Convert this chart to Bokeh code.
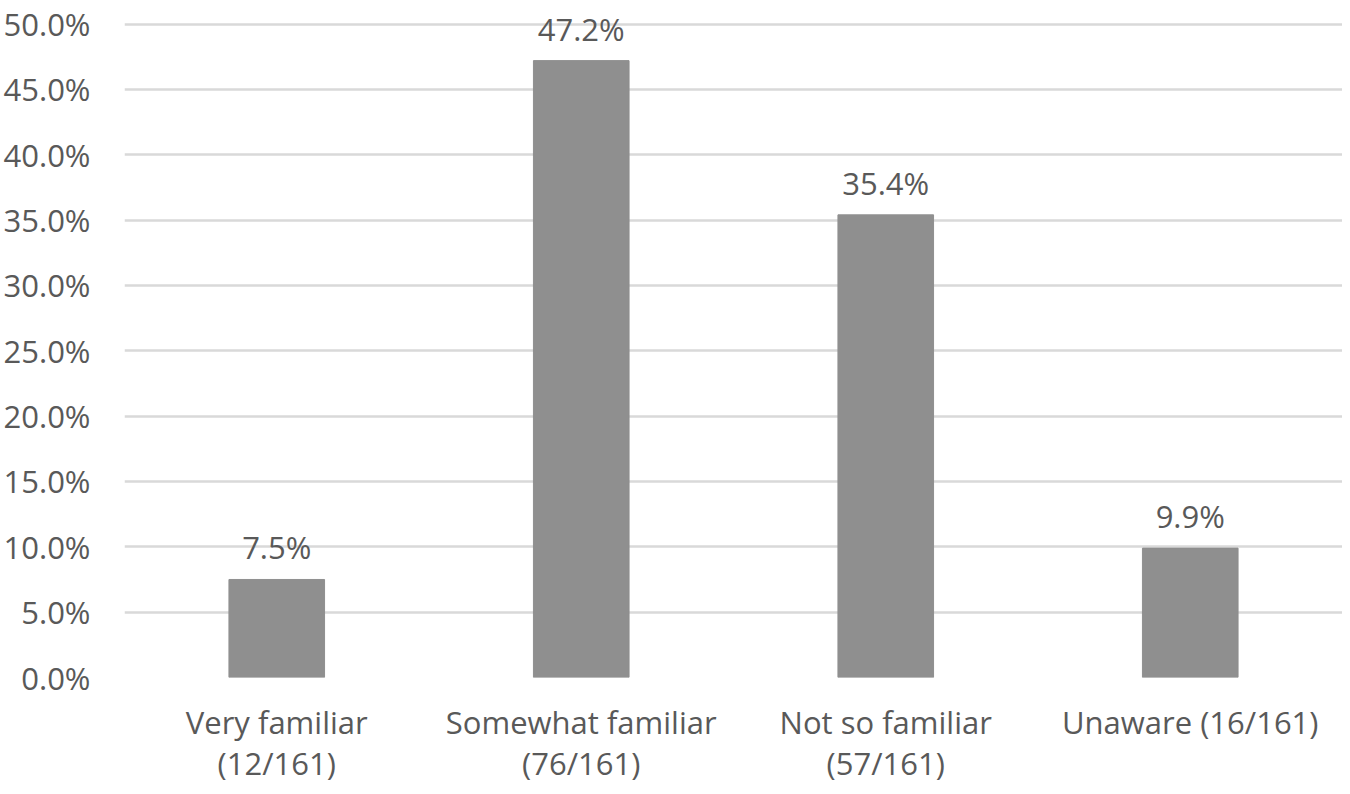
from bokeh.plotting import figure
from bokeh.models import ColumnDataSource, NumeralTickFormatter, FixedTicker, LabelSet
from bokeh.core.properties import value
from bokeh.embed import file_html
from bokeh.resources import INLINE

categories = ["Very familiar\n(12/161)", "Somewhat familiar\n(76/161)", "Not so familiar\n(57/161)", "Unaware (16/161)"]
values = [0.075, 0.472, 0.354, 0.099]
labels = ["7.5%", "47.2%", "35.4%", "9.9%"]
y_ticks = [0.0, 0.05, 0.10, 0.15, 0.20, 0.25, 0.30, 0.35, 0.40, 0.45, 0.50]

FONT = "Open Sans"
TXT = "#595959"
FS = "31px"

src = ColumnDataSource(dict(cat=categories, val=values, lab=labels))

p = figure(x_range=categories, y_range=(0, 0.518), width=1342, height=786,
           output_backend="svg", toolbar_location=None,
           min_border_left=115, min_border_right=0, min_border_top=0, min_border_bottom=100)
p.outline_line_color = None
p.background_fill_color = "white"

p.vbar(x="cat", top="val", width=0.314, source=src, fill_color="#8f8f8f", line_color="#8f8f8f")

lbl = LabelSet(x="cat", y="val", text="lab", source=src, text_align="center",
               text_baseline="bottom", y_offset=11, text_font=value(FONT), text_font_size=value(FS),
               text_color=TXT)
p.add_layout(lbl)

p.yaxis.ticker = FixedTicker(ticks=y_ticks)
p.yaxis.formatter = NumeralTickFormatter(format="0.0%")
p.yaxis.axis_line_color = None
p.yaxis.major_tick_line_color = None
p.yaxis.minor_tick_line_color = None
p.yaxis.major_label_standoff = 28
p.yaxis.major_label_text_font = FONT
p.yaxis.major_label_text_font_size = FS
p.yaxis.major_label_text_color = TXT

p.xaxis.axis_line_color = None
p.xaxis.major_tick_line_color = None
p.xaxis.major_label_standoff = 17
p.xaxis.major_label_text_font = FONT
p.xaxis.major_label_text_font_size = FS
p.xaxis.major_label_text_color = TXT
p.xaxis.major_label_text_line_height = 0.98

p.xgrid.grid_line_color = None
p.ygrid.grid_line_color = "#d9d9d9"
p.ygrid.grid_line_width = 2.5

open("out.html", "w").write(file_html(p, INLINE))
